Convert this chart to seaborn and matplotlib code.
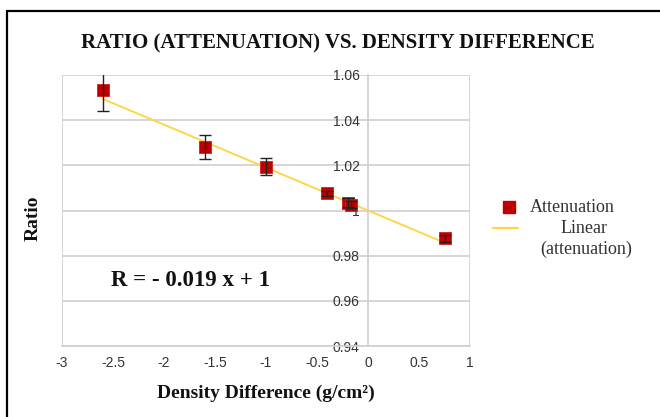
import matplotlib
matplotlib.use("Agg")
import matplotlib.pyplot as plt
import seaborn as sns
import numpy as np
import pandas as pd
from matplotlib.lines import Line2D

# ---- data ----
density_diff = [-2.6, -1.6, -1.0, -0.4, -0.2, -0.17, 0.75]
ratio = [1.0534, 1.0280, 1.0194, 1.0076, 1.0034, 1.0025, 0.9877]
ratio_err = [0.0095, 0.0053, 0.0037, 0.0012, 0.0020, 0.0015, 0.0015]
trend_slope = -0.019
trend_intercept = 1.0
x_ticks = [-3, -2.5, -2, -1.5, -1, -0.5, 0, 0.5, 1]
x_tick_labels = ["-3", "-2.5", "-2", "-1.5", "-1", "-0.5", "0", "0.5", "1"]
y_ticks = [0.94, 0.96, 0.98, 1.0, 1.02, 1.04, 1.06]
y_tick_labels = ["0.94", "0.96", "0.98", "1", "1.02", "1.04", "1.06"]

df = pd.DataFrame({"x": density_diff, "y": ratio, "err": ratio_err})

sns.set_style("white")
serif = ["Liberation Serif", "DejaVu Serif"]
sans = ["Liberation Sans", "DejaVu Sans"]

fig = plt.figure(figsize=(6.6, 4.17), dpi=100)
ax = fig.add_axes([62/660, 1-346/417, (470-62)/660, (346-75)/417])

grid_c = "#d0d0d0"
for yv in y_ticks:
    ax.axhline(yv, color=grid_c, lw=1.2, zorder=0)
ax.axvline(-3, color=grid_c, lw=1.2, zorder=0)
ax.axvline(1, color=grid_c, lw=1.2, zorder=0)

# trendline
tx = np.array([min(density_diff), max(density_diff)])
sns.lineplot(x=tx, y=trend_slope*tx + trend_intercept, ax=ax, color="#FFD54A", lw=1.4, zorder=2)

sns.scatterplot(data=df, x="x", y="y", ax=ax, marker="s", s=70, color="#C00000",
                edgecolor="#D02020", linewidth=0.6, zorder=3)
ax.errorbar(df["x"], df["y"], yerr=df["err"], fmt="none", ecolor="#222222",
            elinewidth=1.0, capsize=4, capthick=1.0, zorder=4)

ax.set_xlim(-3, 1)
ax.set_ylim(0.94, 1.06)
ax.set_xticks(x_ticks)
ax.set_xticklabels(x_tick_labels)
ax.set_yticks(y_ticks)
ax.set_yticklabels(y_tick_labels)

for s in ["top", "right", "bottom", "left"]:
    ax.spines[s].set_color(grid_c)
    ax.spines[s].set_linewidth(1.2)
ax.spines["left"].set_position(("data", 0))
ax.spines["top"].set_visible(False)
ax.spines["right"].set_visible(False)

ax.tick_params(axis="both", which="both", direction="out", length=5, width=1.2,
               color=grid_c, labelcolor="#333333", labelsize=10, pad=2)
ax.tick_params(axis="y", pad=1)
for lab in ax.get_xticklabels() + ax.get_yticklabels():
    lab.set_family(sans)

ax.set_xlabel("Density Difference (g/cm²)", family=serif, fontweight="bold",
              fontsize=14, color="#111111", labelpad=11)
ax.set_ylabel("")
fig.text(33/660, 1-218/417, "Ratio", rotation=90, family=serif, fontweight="bold",
         fontsize=14, color="#111111", ha="center", va="center")

ax.text(-2.52, 0.969, "R = - 0.019 x + 1", family=serif, fontweight="bold",
        fontsize=16.5, color="#111111", ha="left", va="center")

fig.text(338/660, 1-43/417, "RATIO (ATTENUATION) VS. DENSITY DIFFERENCE",
         family=serif, fontweight="bold", fontsize=15, color="#111111",
         ha="center", va="center")

# legend (manual)
fig.add_artist(Line2D([509/660], [1-207/417], marker="s", markersize=8,
                      color="#C00000", linestyle="none", transform=fig.transFigure))
fig.text(530/660, 1-207/417, "Attenuation", family=serif, fontsize=13,
         color="#333333", ha="left", va="center")
fig.add_artist(Line2D([493/660, 518/660], [1-228/417, 1-228/417], color="#FFD54A",
                      lw=1.6, transform=fig.transFigure))
fig.text(584/660, 1-228/417, "Linear", family=serif, fontsize=13,
         color="#333333", ha="center", va="center")
fig.text(586/660, 1-249/417, "(attenuation)", family=serif, fontsize=13,
         color="#333333", ha="center", va="center")

# outer frame (left & top edges visible)
fig.add_artist(Line2D([7/660, 7/660], [0, 1-11/417], color="black", lw=1.6,
                      transform=fig.transFigure))
fig.add_artist(Line2D([7/660, 1], [1-11/417, 1-11/417], color="black", lw=1.6,
                      transform=fig.transFigure))

fig.savefig("out.png", dpi=100)
